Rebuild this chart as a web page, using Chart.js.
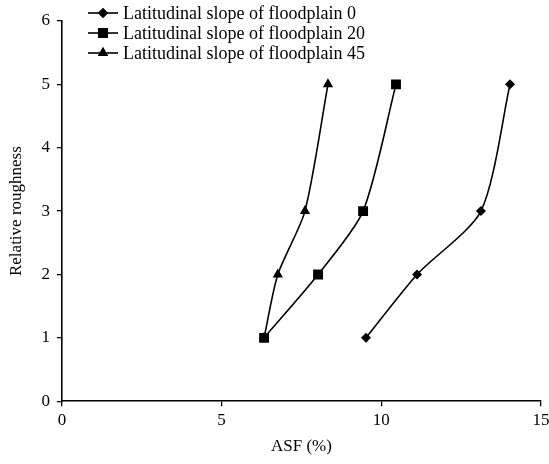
<!DOCTYPE html>
<html>
<head>
<meta charset="utf-8">
<script src="https://cdn.jsdelivr.net/npm/chart.js@4.4.0/dist/chart.umd.min.js"></script>
<style>
  html, body { margin:0; padding:0; background:#fff; }
  #wrap { width:549px; height:464px; }
</style>
</head>
<body>
<div id="wrap"><canvas id="myChart"></canvas></div>
<script>
// relative roughness (y) for every series
const roughness = [1, 2, 3, 5]
// ASF (%)
const asfSlope0  = [9.52, 11.12, 13.12, 14.03]
const asfSlope20 = [6.33, 8.02, 9.43, 10.46]
const asfSlope45 = [6.33, 6.76, 7.61, 8.33]
const seriesNames = ['Latitudinal slope of floodplain 0', 'Latitudinal slope of floodplain 20', 'Latitudinal slope of floodplain 45']
const markers = ['rectRot', 'rect', 'triangle']
const markerSize = [5, 7, 6]

const FONT = "'Liberation Serif', 'Times New Roman', serif"

function toPoints(xs){
	return xs.map((x, i) => ({x: x, y: roughness[i]}))
}

const allSeries = [asfSlope0, asfSlope20, asfSlope45]

const datasets = allSeries.map((xs, i) => ({
	label: seriesNames[i],
	data: toPoints(xs),
	showLine: true,
	borderColor: '#000',
	backgroundColor: '#000',
	borderWidth: 1.6,
	pointStyle: markers[i],
	pointRadius: markerSize[i],
	pointBackgroundColor: '#000',
	pointBorderColor: '#000',
	pointBorderWidth: 0,
	tension: 0.25,
}))

// legend drawn inside the plot, line with marker through it
const insideLegend = {
	id: 'insideLegend',
	afterDraw(chart){
		const ctx = chart.ctx
		ctx.save()
		ctx.font = '18px ' + FONT
		ctx.textBaseline = 'middle'
		ctx.fillStyle = '#000'
		seriesNames.forEach((name, i) => {
			const y = 13 + i * 20
			ctx.strokeStyle = '#000'
			ctx.lineWidth = 1.6
			ctx.beginPath()
			ctx.moveTo(88, y)
			ctx.lineTo(118, y)
			ctx.stroke()
			Chart.helpers.drawPoint(ctx, {pointStyle: markers[i], radius: markerSize[i], rotation: 0, borderWidth: 0}, 103, y)
			ctx.fill()
			ctx.fillText(name, 123, y + 1)
		})
		ctx.restore()
	}
}

const config = {
	type: 'scatter',
	data: {datasets: datasets},
	options: {
		responsive: true,
		maintainAspectRatio: false,
		animation: false,
		layout: {autoPadding: false, padding: {top: 21, right: 8, left: 2, bottom: 3}},
		plugins: {
			legend: {display: false},
			tooltip: {enabled: false},
		},
		scales: {
			x: {
				min: 0, max: 15,
				afterFit(scale){ scale.paddingRight = 0; scale.paddingLeft = 0 },
				ticks: {stepSize: 5, color: '#000', font: {family: FONT, size: 17}, padding: 4},
				grid: {display: true, drawOnChartArea: false, drawTicks: true, tickLength: 5, color: '#000', lineWidth: 1.3},
				border: {display: true, color: '#000', width: 1.6},
				title: {display: true, text: 'ASF (%)', color: '#000', font: {family: FONT, size: 17}, padding: {top: 2}},
			},
			y: {
				min: 0, max: 6,
				afterFit(scale){ scale.paddingTop = 0; scale.paddingBottom = 0 },
				ticks: {stepSize: 1, color: '#000', font: {family: FONT, size: 17}, padding: 7},
				grid: {display: true, drawOnChartArea: false, drawTicks: true, tickLength: 5, color: '#000', lineWidth: 1.3},
				border: {display: true, color: '#000', width: 1.6},
				title: {display: true, text: 'Relative roughness', color: '#000', font: {family: FONT, size: 17}, padding: {bottom: 8}},
			},
		},
	},
	plugins: [insideLegend],
}

new Chart(document.getElementById('myChart'), config)
</script>
</body>
</html>
